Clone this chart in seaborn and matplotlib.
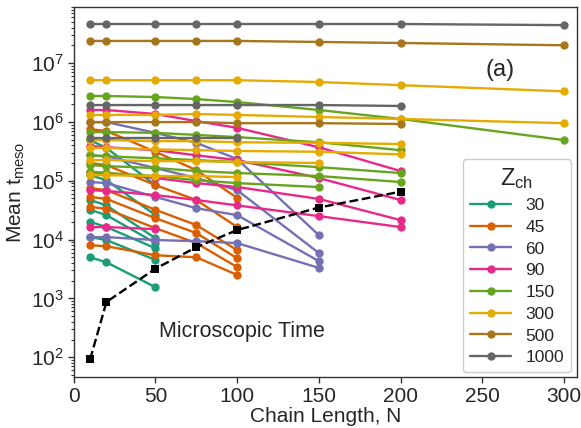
import numpy as np
import pandas as pd
import matplotlib
matplotlib.use("Agg")
import matplotlib.pyplot as plt
from matplotlib.lines import Line2D
from matplotlib.ticker import LogLocator, NullFormatter
import seaborn as sns

# ---------------- data ----------------
N_all = [10, 20, 50, 75, 100, 150, 200, 300]
z_levels = [30, 45, 60, 90, 150, 300, 500, 1000]

z30 = [
    [4.9e5, 3.6e5, 8.4e4],
    [1.24e5, 1.02e5, 2.6e4],
    [4.7e4, 3.8e4, 1.05e4],
    [3.2e4, 2.6e4, 8.7e3],
    [2.0e4, 1.63e4, 7.1e3],
    [1.1e4, 9.8e3, 4.5e3],
    [5.0e3, 4.1e3, 1.55e3],
]
z45 = [
    [7.5e5, 7.0e5, 3.1e5, 1.51e5, 5.1e4],
    [2.0e5, 1.84e5, 8.4e4, 4.7e4, 1.63e4],
    [7.5e4, 6.9e4, 3.2e4, 1.76e4, 6.6e3],
    [5.3e4, 4.9e4, 2.3e4, 1.29e4, 4.8e3],
    [3.6e4, 3.3e4, 1.56e4, 8.7e3, 3.4e3],
    [8.0e3, 7.7e3, 5.4e3, 5.0e3, 2.5e3],
]
z60 = [
    [9.9e5, 9.9e5, 6.5e5, 4.4e5, 2.33e5, 1.19e4],
    [2.7e5, 2.6e5, 1.64e5, 1.11e5, 6.9e4, 5.9e3],
    [9.5e4, 9.1e4, 5.3e4, 3.4e4, 2.6e4, 4.3e3],
    [1.1e4, 1.1e4, 9.8e3, 9.4e3, 8.7e3, 3.3e3],
]
z90 = [
    [1.59e6, 1.59e6, 1.36e6, 1.03e6, 7.9e5, 3.7e5, 1.46e5],
    [3.9e5, 3.7e5, 3.3e5, 2.7e5, 2.24e5, 1.11e5, 4.7e4],
    [1.40e5, 1.35e5, 1.11e5, 9.1e4, 7.8e4, 4.9e4, 2.14e4],
    [6.9e4, 6.7e4, 5.7e4, 4.7e4, 3.8e4, 2.5e4, 1.63e4],
    [1.63e4, 1.63e4, 1.5e4],
]
z150 = [
    [2.75e6, 2.75e6, 2.64e6, 2.44e6, 2.17e6, 1.59e6, 1.12e6, 4.9e5],
    [6.7e5, 6.7e5, 6.5e5, 6.0e5, 5.5e5, 4.5e5, 3.3e5],
    [2.7e5, 2.6e5, 2.4e5, 2.24e5, 2.07e5, 1.70e5, 1.35e5],
    [1.84e5, 1.77e5, 1.64e5, 1.46e5, 1.35e5, 1.20e5, 9.5e4],
    [1.40e5, 1.35e5, 1.20e5, 1.02e5, 9.1e4, 7.8e4],
]
z300 = [
    [5.1e6, 5.1e6, 5.1e6, 5.1e6, 5.1e6, 4.75e6, 4.2e6, 3.3e6],
    [1.31e6, 1.31e6, 1.31e6, 1.36e6, 1.31e6, 1.21e6, 1.12e6, 9.5e5],
    [4.9e5, 4.9e5, 4.7e5, 4.7e5, 4.5e5, 4.4e5, 4.2e5],
    [3.6e5, 3.6e5, 3.4e5, 3.3e5, 3.2e5, 3.1e5, 2.8e5],
    [2.24e5, 2.24e5, 2.15e5, 2.15e5, 2.07e5, 2.0e5],
    [1.24e5, 1.24e5, 1.20e5, 1.20e5, 1.15e5],
]
z500 = [
    [2.37e7, 2.37e7, 2.37e7, 2.37e7, 2.37e7, 2.28e7, 2.19e7, 2.0e7],
    [9.9e5, 9.9e5, 9.9e5, 9.9e5, 9.5e5, 9.5e5, 9.2e5],
]
z1000 = [
    [4.6e7, 4.6e7, 4.6e7, 4.6e7, 4.6e7, 4.6e7, 4.6e7, 4.4e7],
    [1.93e6, 1.93e6, 1.93e6, 1.93e6, 1.93e6, 1.93e6, 1.86e6],
    [5.3e5, 5.3e5, 5.3e5, 5.3e5, 5.3e5],
]

N_micro = [10, 20, 50, 75, 100, 150, 200]
t_micro = [92, 870, 3.2e3, 7.4e3, 1.45e4, 3.5e4, 6.5e4]

colors = ["#1b9e77", "#d95f02", "#7570b3", "#e7298a",
          "#66a61e", "#e6ab02", "#a6761d", "#666666"]

# ---------------- build table ----------------
rows = []
sid = 0
for z, group in zip(z_levels, [z30, z45, z60, z90, z150, z300, z500, z1000]):
    for series in group:
        for n, t in zip(N_all, series):
            rows.append({"N": n, "t": t, "Z": z, "sid": sid})
        sid += 1
df = pd.DataFrame(rows)

# ---------------- plot ----------------
sns.set_style("ticks")
plt.rcParams["font.family"] = ["Liberation Sans", "DejaVu Sans"]
plt.rcParams["mathtext.default"] = "regular"

fig = plt.figure(figsize=(5.81, 4.28), dpi=100)
ax = fig.add_axes([0.127, 0.119, 0.866, 0.865])

palette = dict(zip(z_levels, colors))
sns.lineplot(data=df, x="N", y="t", hue="Z", units="sid", estimator=None,
             palette=palette, marker="o", markersize=6, markeredgewidth=0,
             linewidth=1.7, legend=False, ax=ax, sort=False)

sns.lineplot(x=N_micro, y=t_micro, color="black", linestyle="--",
             marker="s", markersize=6, markeredgewidth=0, linewidth=1.7,
             ax=ax, zorder=5)

ax.set_yscale("log")
ax.set_xlim(0, 308)
ax.set_ylim(46, 9e7)
ax.set_xticks([0, 50, 100, 150, 200, 250, 300])
ax.yaxis.set_major_locator(LogLocator(base=10, numticks=12))
ax.yaxis.set_minor_locator(LogLocator(base=10, subs=np.arange(2, 10), numticks=12))
ax.yaxis.set_minor_formatter(NullFormatter())
ax.tick_params(axis="both", which="major", labelsize=15, length=4, width=1,
               color="#333333", pad=3)
ax.tick_params(axis="y", which="minor", length=2, width=0.8, color="#333333")
ax.xaxis.offsetText.set_visible(False)
ax.yaxis.offsetText.set_visible(False)

for s in ax.spines.values():
    s.set_color("#333333")
    s.set_linewidth(1.0)

ax.set_xlabel("Chain Length, N", fontsize=15, labelpad=1)
ax.set_ylabel("Mean t$_{meso}$", fontsize=15, labelpad=3)

ax.text(0.848, 0.83, "(a)", transform=ax.transAxes, fontsize=17,
        ha="center", va="center")
ax.text(0.335, 0.122, "Microscopic Time", transform=ax.transAxes,
        fontsize=15.5, ha="center", va="center")

handles = [Line2D([0], [0], color=c, marker="o", markersize=6,
                  markeredgewidth=0, linewidth=1.7) for c in colors]
leg = ax.legend(handles, [str(z) for z in z_levels], title="Z$_{ch}$",
                loc="lower right", bbox_to_anchor=(0.988, 0.013),
                borderaxespad=0.0,
                fontsize=12.5, title_fontsize=17, labelspacing=0.38,
                handlelength=2.4, frameon=True, framealpha=1,
                edgecolor="#cccccc", borderpad=0.4)

fig.savefig("out.png", dpi=100)
